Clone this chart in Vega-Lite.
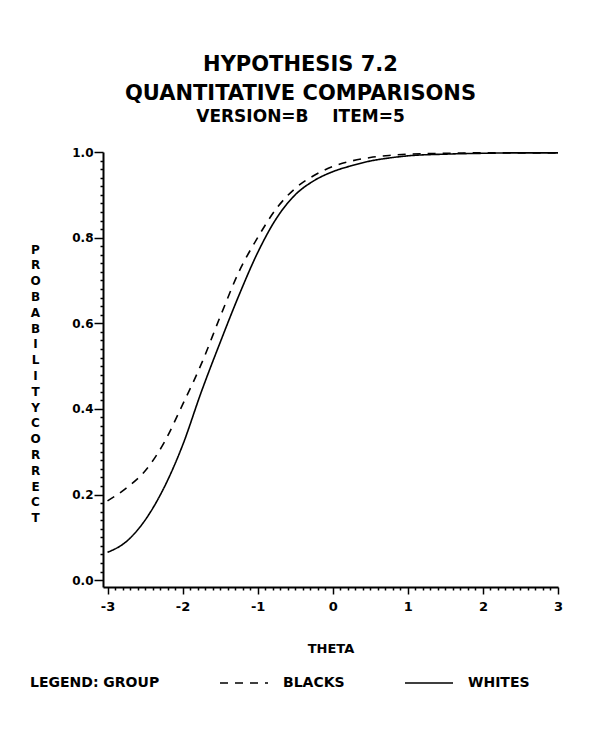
{
  "$schema": "https://vega.github.io/schema/vega-lite/v6.json",
  "width": 455,
  "height": 435,
  "autosize": {"type": "none"},
  "padding": {"left": 103, "top": 152, "right": 41, "bottom": 151},
  "background": "white",
  "title": {
    "text": ["HYPOTHESIS 7.2", "QUANTITATIVE COMPARISONS"],
    "subtitle": "VERSION=B\u00a0\u00a0\u00a0\u00a0ITEM=5",
    "anchor": "middle",
    "dx": -30,
    "offset": 21,
    "font": "DejaVu Sans",
    "fontSize": 21,
    "fontWeight": "bold",
    "lineHeight": 29,
    "color": "black",
    "subtitleFont": "DejaVu Sans",
    "subtitleFontSize": 17,
    "subtitleFontWeight": "bold",
    "subtitleColor": "black",
    "subtitlePadding": 5
  },
  "data": {
    "values": [
      {"theta": -3.0, "p": 0.065, "group": "WHITES"},
      {"theta": -2.75, "p": 0.09, "group": "WHITES"},
      {"theta": -2.5, "p": 0.14, "group": "WHITES"},
      {"theta": -2.25, "p": 0.215, "group": "WHITES"},
      {"theta": -2.0, "p": 0.315, "group": "WHITES"},
      {"theta": -1.75, "p": 0.44, "group": "WHITES"},
      {"theta": -1.5, "p": 0.555, "group": "WHITES"},
      {"theta": -1.25, "p": 0.665, "group": "WHITES"},
      {"theta": -1.0, "p": 0.765, "group": "WHITES"},
      {"theta": -0.75, "p": 0.845, "group": "WHITES"},
      {"theta": -0.5, "p": 0.9, "group": "WHITES"},
      {"theta": -0.25, "p": 0.933, "group": "WHITES"},
      {"theta": 0.0, "p": 0.954, "group": "WHITES"},
      {"theta": 0.25, "p": 0.968, "group": "WHITES"},
      {"theta": 0.5, "p": 0.979, "group": "WHITES"},
      {"theta": 0.75, "p": 0.986, "group": "WHITES"},
      {"theta": 1.0, "p": 0.991, "group": "WHITES"},
      {"theta": 1.5, "p": 0.995, "group": "WHITES"},
      {"theta": 2.0, "p": 0.997, "group": "WHITES"},
      {"theta": 2.5, "p": 0.998, "group": "WHITES"},
      {"theta": 3.0, "p": 0.998, "group": "WHITES"},
      {"theta": -3.0, "p": 0.185, "group": "BLACKS"},
      {"theta": -2.75, "p": 0.215, "group": "BLACKS"},
      {"theta": -2.5, "p": 0.255, "group": "BLACKS"},
      {"theta": -2.25, "p": 0.32, "group": "BLACKS"},
      {"theta": -2.0, "p": 0.41, "group": "BLACKS"},
      {"theta": -1.75, "p": 0.505, "group": "BLACKS"},
      {"theta": -1.5, "p": 0.615, "group": "BLACKS"},
      {"theta": -1.25, "p": 0.72, "group": "BLACKS"},
      {"theta": -1.0, "p": 0.8, "group": "BLACKS"},
      {"theta": -0.75, "p": 0.868, "group": "BLACKS"},
      {"theta": -0.5, "p": 0.915, "group": "BLACKS"},
      {"theta": -0.25, "p": 0.945, "group": "BLACKS"},
      {"theta": 0.0, "p": 0.966, "group": "BLACKS"},
      {"theta": 0.25, "p": 0.979, "group": "BLACKS"},
      {"theta": 0.5, "p": 0.987, "group": "BLACKS"},
      {"theta": 0.75, "p": 0.992, "group": "BLACKS"},
      {"theta": 1.0, "p": 0.995, "group": "BLACKS"},
      {"theta": 1.5, "p": 0.997, "group": "BLACKS"},
      {"theta": 2.0, "p": 0.998, "group": "BLACKS"},
      {"theta": 2.5, "p": 0.998, "group": "BLACKS"},
      {"theta": 3.0, "p": 0.998, "group": "BLACKS"}
    ]
  },
  "mark": {"type": "line", "interpolate": "monotone", "color": "black", "strokeWidth": 1.6},
  "encoding": {
    "x": {
      "field": "theta",
      "type": "quantitative",
      "scale": {"domain": [-3.06, 3], "nice": false, "zero": false},
      "axis": {
        "title": "THETA",
        "titleFontSize": 13,
        "titleY": 61,
        "titleBaseline": "middle",
        "labelFontSize": 13,
        "labelPadding": 6,
        "labelFlush": false,
        "labelOverlap": false,
        "values": [-3, -2.9, -2.8, -2.7, -2.6, -2.5, -2.4, -2.3, -2.2, -2.1, -2, -1.9, -1.8, -1.7, -1.6, -1.5, -1.4, -1.3, -1.2, -1.1, -1, -0.9, -0.8, -0.7, -0.6, -0.5, -0.4, -0.3, -0.2, -0.1, 0, 0.1, 0.2, 0.3, 0.4, 0.5, 0.6, 0.7, 0.8, 0.9, 1, 1.1, 1.2, 1.3, 1.4, 1.5, 1.6, 1.7, 1.8, 1.9, 2, 2.1, 2.2, 2.3, 2.4, 2.5, 2.6, 2.7, 2.8, 2.9, 3],
        "labelExpr": "abs(datum.value - round(datum.value)) < 0.001 ? '' + round(datum.value) : ''",
        "tickSize": {"condition": {"test": "abs(datum.value - round(datum.value)) < 0.001", "value": 7}, "value": 3}
      }
    },
    "y": {
      "field": "p",
      "type": "quantitative",
      "scale": {"domain": [-0.016, 1], "nice": false, "zero": false},
      "axis": {
        "title": ["P", "R", "O", "B", "A", "B", "I", "L", "I", "T", "Y", "C", "O", "R", "R", "E", "C", "T"],
        "titleAngle": 0,
        "titleFontSize": 12,
        "titleLineHeight": 15.8,
        "titleX": -68,
        "titleY": 97,
        "titleAlign": "center",
        "titleBaseline": "middle",
        "labelFontSize": 12,
        "labelPadding": 1,
        "labelOverlap": false,
        "labelFlush": false,
        "values": [0, 0.02, 0.04, 0.06, 0.08, 0.1, 0.12, 0.14, 0.16, 0.18, 0.2, 0.22, 0.24, 0.26, 0.28, 0.3, 0.32, 0.34, 0.36, 0.38, 0.4, 0.42, 0.44, 0.46, 0.48, 0.5, 0.52, 0.54, 0.56, 0.58, 0.6, 0.62, 0.64, 0.66, 0.68, 0.7, 0.72, 0.74, 0.76, 0.78, 0.8, 0.82, 0.84, 0.86, 0.88, 0.9, 0.92, 0.94, 0.96, 0.98, 1],
        "labelExpr": "abs(datum.value * 5 - round(datum.value * 5)) < 0.001 ? format(datum.value, '.1f') : ''",
        "tickSize": {"condition": {"test": "abs(datum.value * 5 - round(datum.value * 5)) < 0.001", "value": 9}, "value": 3}
      }
    },
    "strokeDash": {
      "field": "group",
      "type": "nominal",
      "scale": {"domain": ["BLACKS", "WHITES"], "range": [[8, 7], [1, 0]]},
      "legend": {
        "title": "LEGEND: GROUP",
        "orient": "none",
        "legendX": -73,
        "legendY": 506,
        "direction": "horizontal",
        "titleOrient": "left",
        "titleAnchor": "end",
        "titleBaseline": "bottom",
        "titlePadding": 59,
        "symbolType": "stroke",
        "symbolSize": 2304,
        "symbolStrokeWidth": 1.6,
        "symbolStrokeColor": "black",
        "labelOffset": 14,
        "columnPadding": 56
      }
    }
  },
  "config": {
    "view": {"stroke": null},
    "axis": {
      "grid": false,
      "domainColor": "black",
      "domainWidth": 2,
      "tickColor": "black",
      "tickWidth": 1.5,
      "labelColor": "black",
      "titleColor": "black",
      "labelFont": "DejaVu Sans",
      "titleFont": "DejaVu Sans",
      "labelFontWeight": "bold",
      "titleFontWeight": "bold"
    },
    "legend": {
      "titleFont": "DejaVu Sans",
      "titleFontSize": 14,
      "titleFontWeight": "bold",
      "titleColor": "black",
      "labelFont": "DejaVu Sans",
      "labelFontSize": 14,
      "labelFontWeight": "bold",
      "labelColor": "black"
    }
  }
}
